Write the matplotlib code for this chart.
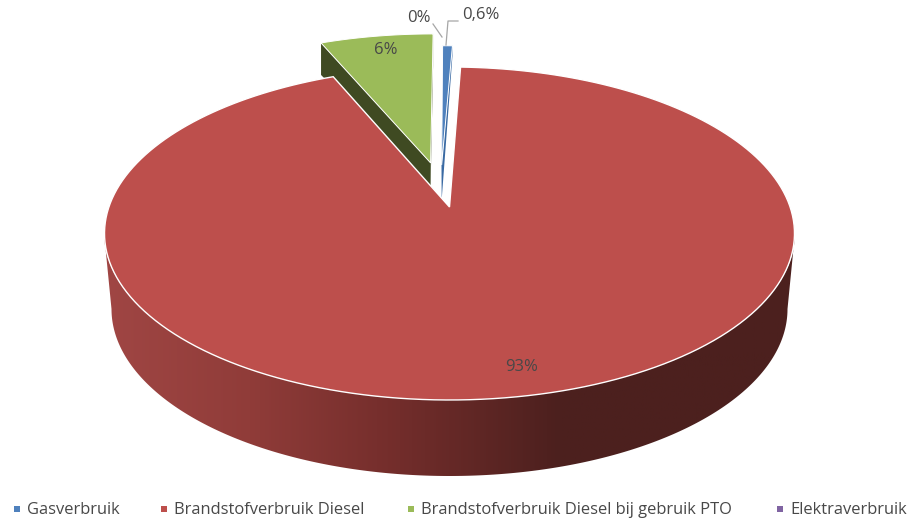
import numpy as np
import matplotlib
matplotlib.use("Agg")
import matplotlib.pyplot as plt
from matplotlib.colors import LinearSegmentedColormap
from matplotlib.patches import Polygon

plt.rcParams['font.family'] = ['Open Sans', 'DejaVu Sans']

categories = ['Gasverbruik', 'Brandstofverbruik Diesel',
              'Brandstofverbruik Diesel bij gebruik PTO', 'Elektraverbruik']
values = [0.6, 93.0, 6.4, 0.0]
value_labels = ['0,6%', '93%', '6%', '0%']

colors = ['#4f81bd', '#bd4f4c', '#9bbb59', '#8064a2']
wall_colors = ['#3a6aa3', None, '#3f4a22', None]
# explode offset in the plane of the pie, per slice
explode_u = [-0.024, 0, -0.058, 0]
explode_v = [0.27, 0, 0.284, 0]
slice_scale = [0.91, 1, 1, 1]
# wall height at the tip and at the rim of the exploded slices
depth_tip = [35, 0, 23, 0]
depth_rim = [10, 0, 32, 0]

# pie geometry (pixels)
cx, cy = 449.5, 207
a_p, b_p, k = 340.6, 162.3, 0.159


def project(u, v):
    w = 1 + k * v
    return cx + a_p * u / w, cy - b_p * v / w


def slice_outline(t1, t2, du=0, dv=0, s=1):
    th = np.radians(np.linspace(t1, t2, 200))
    u = np.r_[du, du + s * np.sin(th), du]
    v = np.r_[dv, dv + s * np.cos(th), dv]
    x, y = project(u, v)
    return np.c_[x, y]


fig = plt.figure(figsize=(9.18, 5.22), dpi=100)
ax = fig.add_axes([0, 0, 1, 1])
ax.set_xlim(0, 918)
ax.set_ylim(522, 0)
ax.axis('off')

cum = np.r_[0, np.cumsum(values)] * 3.6
order = [2, 0]

# exploded slices first, the big one sits in front of them
for i in order:
    pts = slice_outline(cum[i], cum[i + 1], explode_u[i], explode_v[i], slice_scale[i])
    for edge in (pts[1], pts[-2]):
        wall = np.array([pts[0], edge, edge + [0, depth_rim[i]], pts[0] + [0, depth_tip[i]]])
        ax.add_patch(Polygon(wall, fc=wall_colors[i], ec='none', zorder=2))
    ax.add_patch(Polygon(pts, fc=colors[i], ec='white', lw=0.7, zorder=3))

# outer wall of the big slice
th = np.linspace(np.pi, 2 * np.pi, 300)
top_x = cx + 345.5 * np.cos(th)
top_y = 233 - 166 * np.sin(th)
bot_x = cx + 338 * np.cos(th)
bot_y = 309 - 167 * np.sin(th)
side = Polygon(np.c_[np.r_[top_x, bot_x[::-1]], np.r_[top_y, bot_y[::-1]]],
               fc='none', ec='none', transform=ax.transData)
ax.add_patch(side)
side_cmap = LinearSegmentedColormap.from_list(
    'side', [(0, '#a04644'), (0.21, '#903c39'), (0.41, '#752e2c'), (0.66, '#4c201e'), (1, '#4c201e')])
img = ax.imshow(np.linspace(0, 1, 256)[None, :], extent=(104, 795, 490, 220), cmap=side_cmap,
                aspect='auto', zorder=4, vmin=0, vmax=1)
img.set_clip_path(side)
ax.set_xlim(0, 918)
ax.set_ylim(522, 0)

pts = slice_outline(cum[1], cum[2])
ax.add_patch(Polygon(pts, fc=colors[1], ec='white', lw=1.0, zorder=5))

# leader lines
ax.plot([433, 442], [24, 37], color='#a6a6a6', lw=0.9, zorder=6)
ax.plot([446, 448, 458], [45, 21, 21], color='#a6a6a6', lw=0.9, zorder=6)

# value labels
label_pos = [(481, 15), (522, 367), (386, 50), (419, 18)]
for txt, (x, y) in zip(value_labels, label_pos):
    ax.text(x, y, txt, ha='center', va='center', fontsize=12, color='#484848', zorder=7)

# legend
legend_x = [14, 161, 408, 777]
for name, col, x in zip(categories, colors, legend_x):
    ax.scatter([x + 3], [509], marker='s', s=20, color=col, lw=0, zorder=7)
    ax.text(x + 13, 510, name, ha='left', va='center', fontsize=11.9, color='#484848', zorder=7)

fig.savefig('out.png', dpi=100)
